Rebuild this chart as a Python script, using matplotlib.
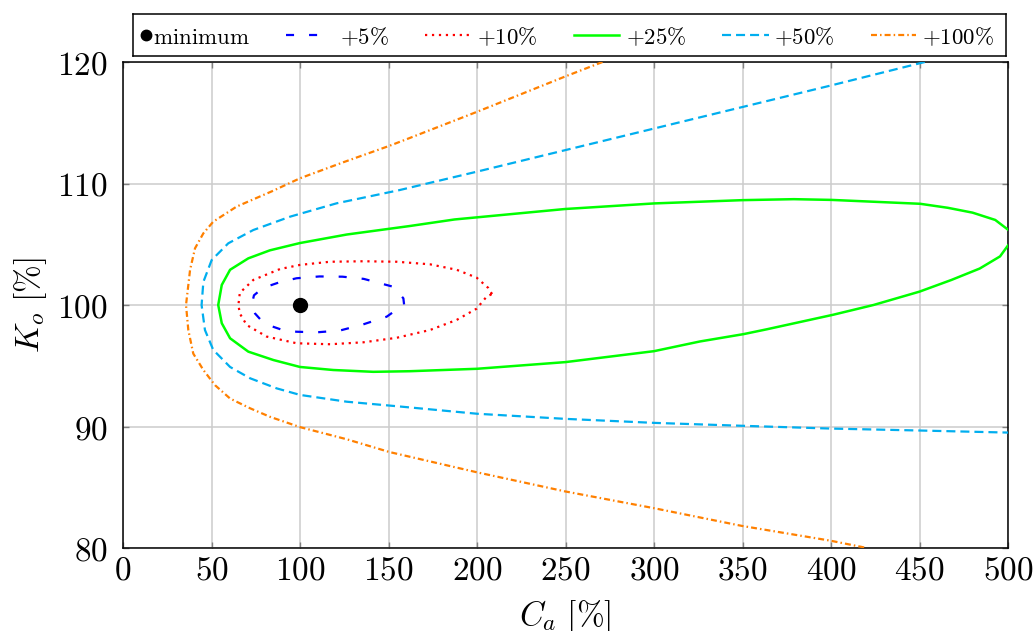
import matplotlib
matplotlib.use("Agg")
import matplotlib.pyplot as plt
from matplotlib.lines import Line2D

plt.rcParams['mathtext.fontset'] = 'cm'
plt.rcParams['font.family'] = 'DejaVu Serif'
plt.rcParams['lines.scale_dashes'] = False

# ---- data: iso-cost contours in the (C_a, K_o) plane ----
min_point_x = [100]
min_point_y = [100]

c5_x = [158.8, 158.4, 152.7, 136.0, 124.0, 111.0, 98.0, 88.0, 79.0, 74.0, 72.7,
        74.6, 78.0, 83.0, 90.0, 98.0, 109.4, 122.6, 135.6, 149.0, 158.8]
c5_y = [100.05, 100.55, 101.5, 102.15, 102.33, 102.35, 102.2, 101.85, 101.4, 100.8, 100.0,
        99.3, 98.75, 98.3, 97.95, 97.8, 97.75, 97.9, 98.4, 99.04, 100.05]

c10_x = [208.5, 206.4, 199.8, 188.5, 173.4, 154.6, 135.8, 117.0, 100.0, 88.7, 73.6, 66.0,
         65.2, 66.0, 69.9, 81.2, 98.1, 117.0, 135.8, 154.6, 173.4, 188.5, 199.8, 205.5, 208.5]
c10_y = [100.9, 101.4, 102.25, 102.9, 103.35, 103.56, 103.6, 103.56, 103.3, 102.96, 102.06, 101.0,
         100.0, 99.3, 98.35, 97.4, 96.85, 96.77, 96.93, 97.3, 97.94, 98.77, 99.7, 100.7, 100.9]

c25_x = [500.0, 492.8, 480.0, 466.0, 450.4, 400.3, 379.0, 350.0, 300.0, 249.7, 187.3, 162.0,
         126.4, 100.0, 83.0, 70.8, 60.5, 55.8, 53.8, 55.8, 60.5, 70.8, 85.0, 100.0, 118.8,
         141.4, 162.0, 200.0, 250.0, 300.0, 326.0, 350.5, 363.7, 401.3, 424.0, 450.0, 468.0,
         484.0, 495.5, 500.0]
c25_y = [106.2, 107.0, 107.6, 108.0, 108.33, 108.65, 108.71, 108.63, 108.36, 107.9, 107.04, 106.5,
         105.8, 105.1, 104.5, 103.84, 102.9, 101.65, 100.0, 98.5, 97.26, 96.16, 95.47, 94.9, 94.65,
         94.5, 94.55, 94.75, 95.3, 96.2, 97.0, 97.6, 98.0, 99.2, 100.0, 101.1, 102.06,
         103.0, 104.0, 104.9]

c50_x = [453.0, 400.3, 350.1, 299.9, 249.7, 200.7, 156.3, 120.7, 94.4, 73.6, 59.5, 50.1,
         45.4, 44.4, 46.3, 51.0, 60.5, 71.8, 86.8, 100.0, 126.4, 156.1, 200.0, 249.7, 299.9,
         349.6, 399.8, 450.0, 500.0]
c50_y = [120.0, 118.08, 116.3, 114.52, 112.74, 111.0, 109.46, 108.37, 107.27, 106.17, 105.08, 103.7,
         101.9, 100.0, 97.94, 96.3, 94.9, 93.97, 93.14, 92.6, 92.04, 91.65, 91.05, 90.63, 90.3,
         90.06, 89.83, 89.67, 89.5]

c100_x = [270.9, 249.7, 200.0, 161.2, 150.5, 124.5, 100.0, 84.0, 64.2, 51.0, 45.4, 40.7,
          37.9, 35.6, 36.9, 39.7, 45.4, 52.0, 60.5, 71.8, 83.0, 100.0, 126.4, 150.5, 200.0,
          249.7, 299.9, 349.6, 399.8, 420.3]
c100_y = [120.0, 118.8, 115.9, 113.7, 113.1, 111.75, 110.43, 109.35, 108.1, 106.86, 105.9, 104.67,
          102.9, 100.0, 97.94, 96.0, 94.65, 93.4, 92.3, 91.5, 90.8, 89.95, 88.95, 87.9, 86.23,
          84.66, 83.28, 81.82, 80.6, 80.0]

x_ticks = [0, 50, 100, 150, 200, 250, 300, 350, 400, 450, 500]
y_ticks = [80, 90, 100, 110, 120]

labels = [r'$\mathrm{minimum}$', r'$+5\%$', r'$+10\%$', r'$+25\%$', r'$+50\%$', r'$+100\%$']

# ---- figure and main axes ----
W, H = 1035, 631
fig = plt.figure(figsize=(W / 100, H / 100), dpi=100)
ax = fig.add_axes([123 / W, 1 - 548 / H, 885 / W, 486 / H])

lw = 1.6
styles = [
    dict(color='#0000ff', lw=lw, dashes=(5.8, 10.8)),
    dict(color='#ff0000', lw=lw, dashes=(1.6, 3.4)),
    dict(color='#00ff00', lw=1.8, linestyle='-'),
    dict(color='#00aeef', lw=lw, dashes=(6.5, 3.6)),
    dict(color='#ff8000', lw=lw, dashes=(4.3, 2.2, 1.1, 2.2)),
]
curves = [(c5_x, c5_y), (c10_x, c10_y), (c25_x, c25_y), (c50_x, c50_y), (c100_x, c100_y)]

for (cx, cy), st in zip(curves, styles):
    ax.plot(cx, cy, **st, clip_on=True, zorder=3)

ax.plot(min_point_x, min_point_y, 'o', color='black', markersize=10, zorder=5)

ax.set_xlim(0, 500)
ax.set_ylim(80, 120)
ax.set_xticks(x_ticks)
ax.set_yticks(y_ticks)
ax.set_xticklabels([f'${v}$' for v in x_ticks], fontsize=24)
ax.set_yticklabels([f'${v}$' for v in y_ticks], fontsize=24)
ax.tick_params(direction='in', length=4, width=1, color='#808080', top=True, right=True)
ax.tick_params(axis='y', pad=11)
ax.tick_params(axis='x', pad=5)
ax.grid(True, color='#cccccc', lw=1.1, zorder=0)
ax.set_axisbelow(True)
for sp in ax.spines.values():
    sp.set_linewidth(1.1)
    sp.set_color('black')

ax.set_xlabel(r'$C_a\ [\%]$', fontsize=24, labelpad=8)
ax.set_ylabel(r'$K_o\ [\%]$', fontsize=24, labelpad=6)

# ---- legend box drawn in its own pixel-scaled axes ----
lg = fig.add_axes([133 / W, 1 - 56 / H, 873 / W, 42 / H])
lg.set_xlim(0, 873)
lg.set_ylim(0, 42)
lg.set_xticks([])
lg.set_yticks([])
for sp in lg.spines.values():
    sp.set_linewidth(1.1)
    sp.set_color('black')

yc = 21
lg.plot([13], [yc], 'o', color='black', markersize=7.5)
lg.text(20, yc, labels[0], fontsize=16.5, ha='left', va='center_baseline')
seg = [(153, 198, 207), (291.5, 337, 344), (441, 486, 493), (589, 636, 641), (738, 783, 788.5)]
for (x0, x1, tx), st, lab in zip(seg, styles, labels[1:]):
    lg.add_line(Line2D([x0, x1], [yc, yc], **st))
    lg.text(tx, yc, lab, fontsize=16.5, ha='left', va='center_baseline')

fig.savefig('out.png', dpi=100)
